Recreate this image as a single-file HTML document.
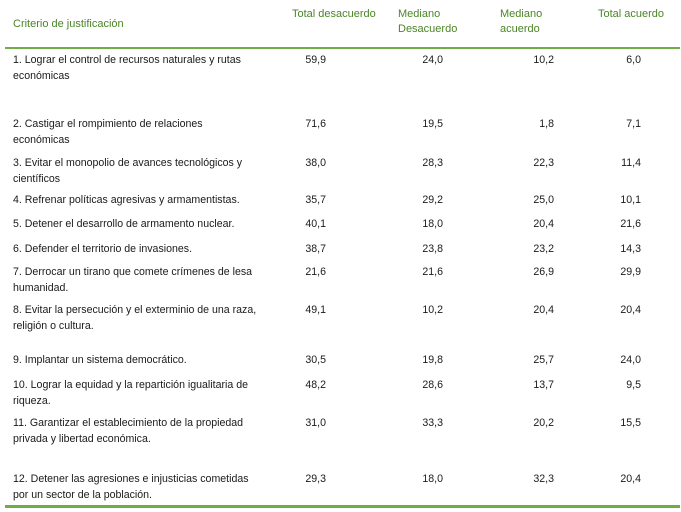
<!DOCTYPE html>
<html><head><meta charset="utf-8"><style>
body{margin:0;width:681px;height:512px;background:#fff;position:relative;overflow:hidden;font-family:"Liberation Sans",sans-serif;font-size:10.6px;color:#1a1a1a}
.a{position:absolute;white-space:nowrap;line-height:15px}
.h{color:#4a8526;font-size:11px}
.n{text-align:right}
.line{position:absolute;background:#70ad47}
</style></head><body>
<div class="a h" style="left:13px;top:17px">Criterio de justificación</div>
<div class="a h" style="left:292px;top:7px">Total desacuerdo</div>
<div class="a h" style="left:398px;top:7px">Mediano<br>Desacuerdo</div>
<div class="a h" style="left:500px;top:7px">Mediano<br>acuerdo</div>
<div class="a h" style="left:598px;top:7px">Total acuerdo</div>
<div class="line" style="left:5px;top:47px;width:675px;height:2px"></div>
<div class="line" style="left:5px;top:505px;width:675px;height:3px"></div>
<div id="rows"></div>
<script>
const labels=[["1. Lograr el control de recursos naturales y rutas","económicas"],["2. Castigar el rompimiento de relaciones","económicas"],["3. Evitar el monopolio de avances tecnológicos y","científicos"],["4. Refrenar políticas agresivas y armamentistas."],["5. Detener el desarrollo de armamento nuclear."],["6. Defender el territorio de invasiones."],["7. Derrocar un tirano que comete crímenes de lesa","humanidad."],["8. Evitar la persecución y el exterminio de una raza,","religión o cultura."],["9. Implantar un sistema democrático."],["10. Lograr la equidad y la repartición igualitaria de","riqueza."],["11. Garantizar el establecimiento de la propiedad","privada y libertad económica."],["12. Detener las agresiones e injusticias cometidas","por un sector de la población."]];
const totalDes=["59,9","71,6","38,0","35,7","40,1","38,7","21,6","49,1","30,5","48,2","31,0","29,3"];
const medDes=["24,0","19,5","28,3","29,2","18,0","23,8","21,6","10,2","19,8","28,6","33,3","18,0"];
const medAc=["10,2","1,8","22,3","25,0","20,4","23,2","26,9","20,4","25,7","13,7","20,2","32,3"];
const totalAc=["6,0","7,1","11,4","10,1","21,6","14,3","29,9","20,4","24,0","9,5","15,5","20,4"];
const tops=[53,117,156,193,217,242,265,303,353,378,416,472];
const rights=[326,443,554,641];
const root=document.getElementById('rows');
labels.forEach((l,i)=>{
  const d=document.createElement('div');d.className='a';d.style.left='13px';d.style.top=(tops[i]-1)+'px';d.style.lineHeight='16px';
  d.innerHTML=l.join('<br>');
  
  
  root.appendChild(d);
  [totalDes,medDes,medAc,totalAc].forEach((arr,j)=>{
    const c=document.createElement('div');c.className='a n';c.textContent=arr[i];
    c.style.right=(681-rights[j])+'px';c.style.top=tops[i]+'px';
    
    
    root.appendChild(c);
  });
});
</script>
</body></html>
